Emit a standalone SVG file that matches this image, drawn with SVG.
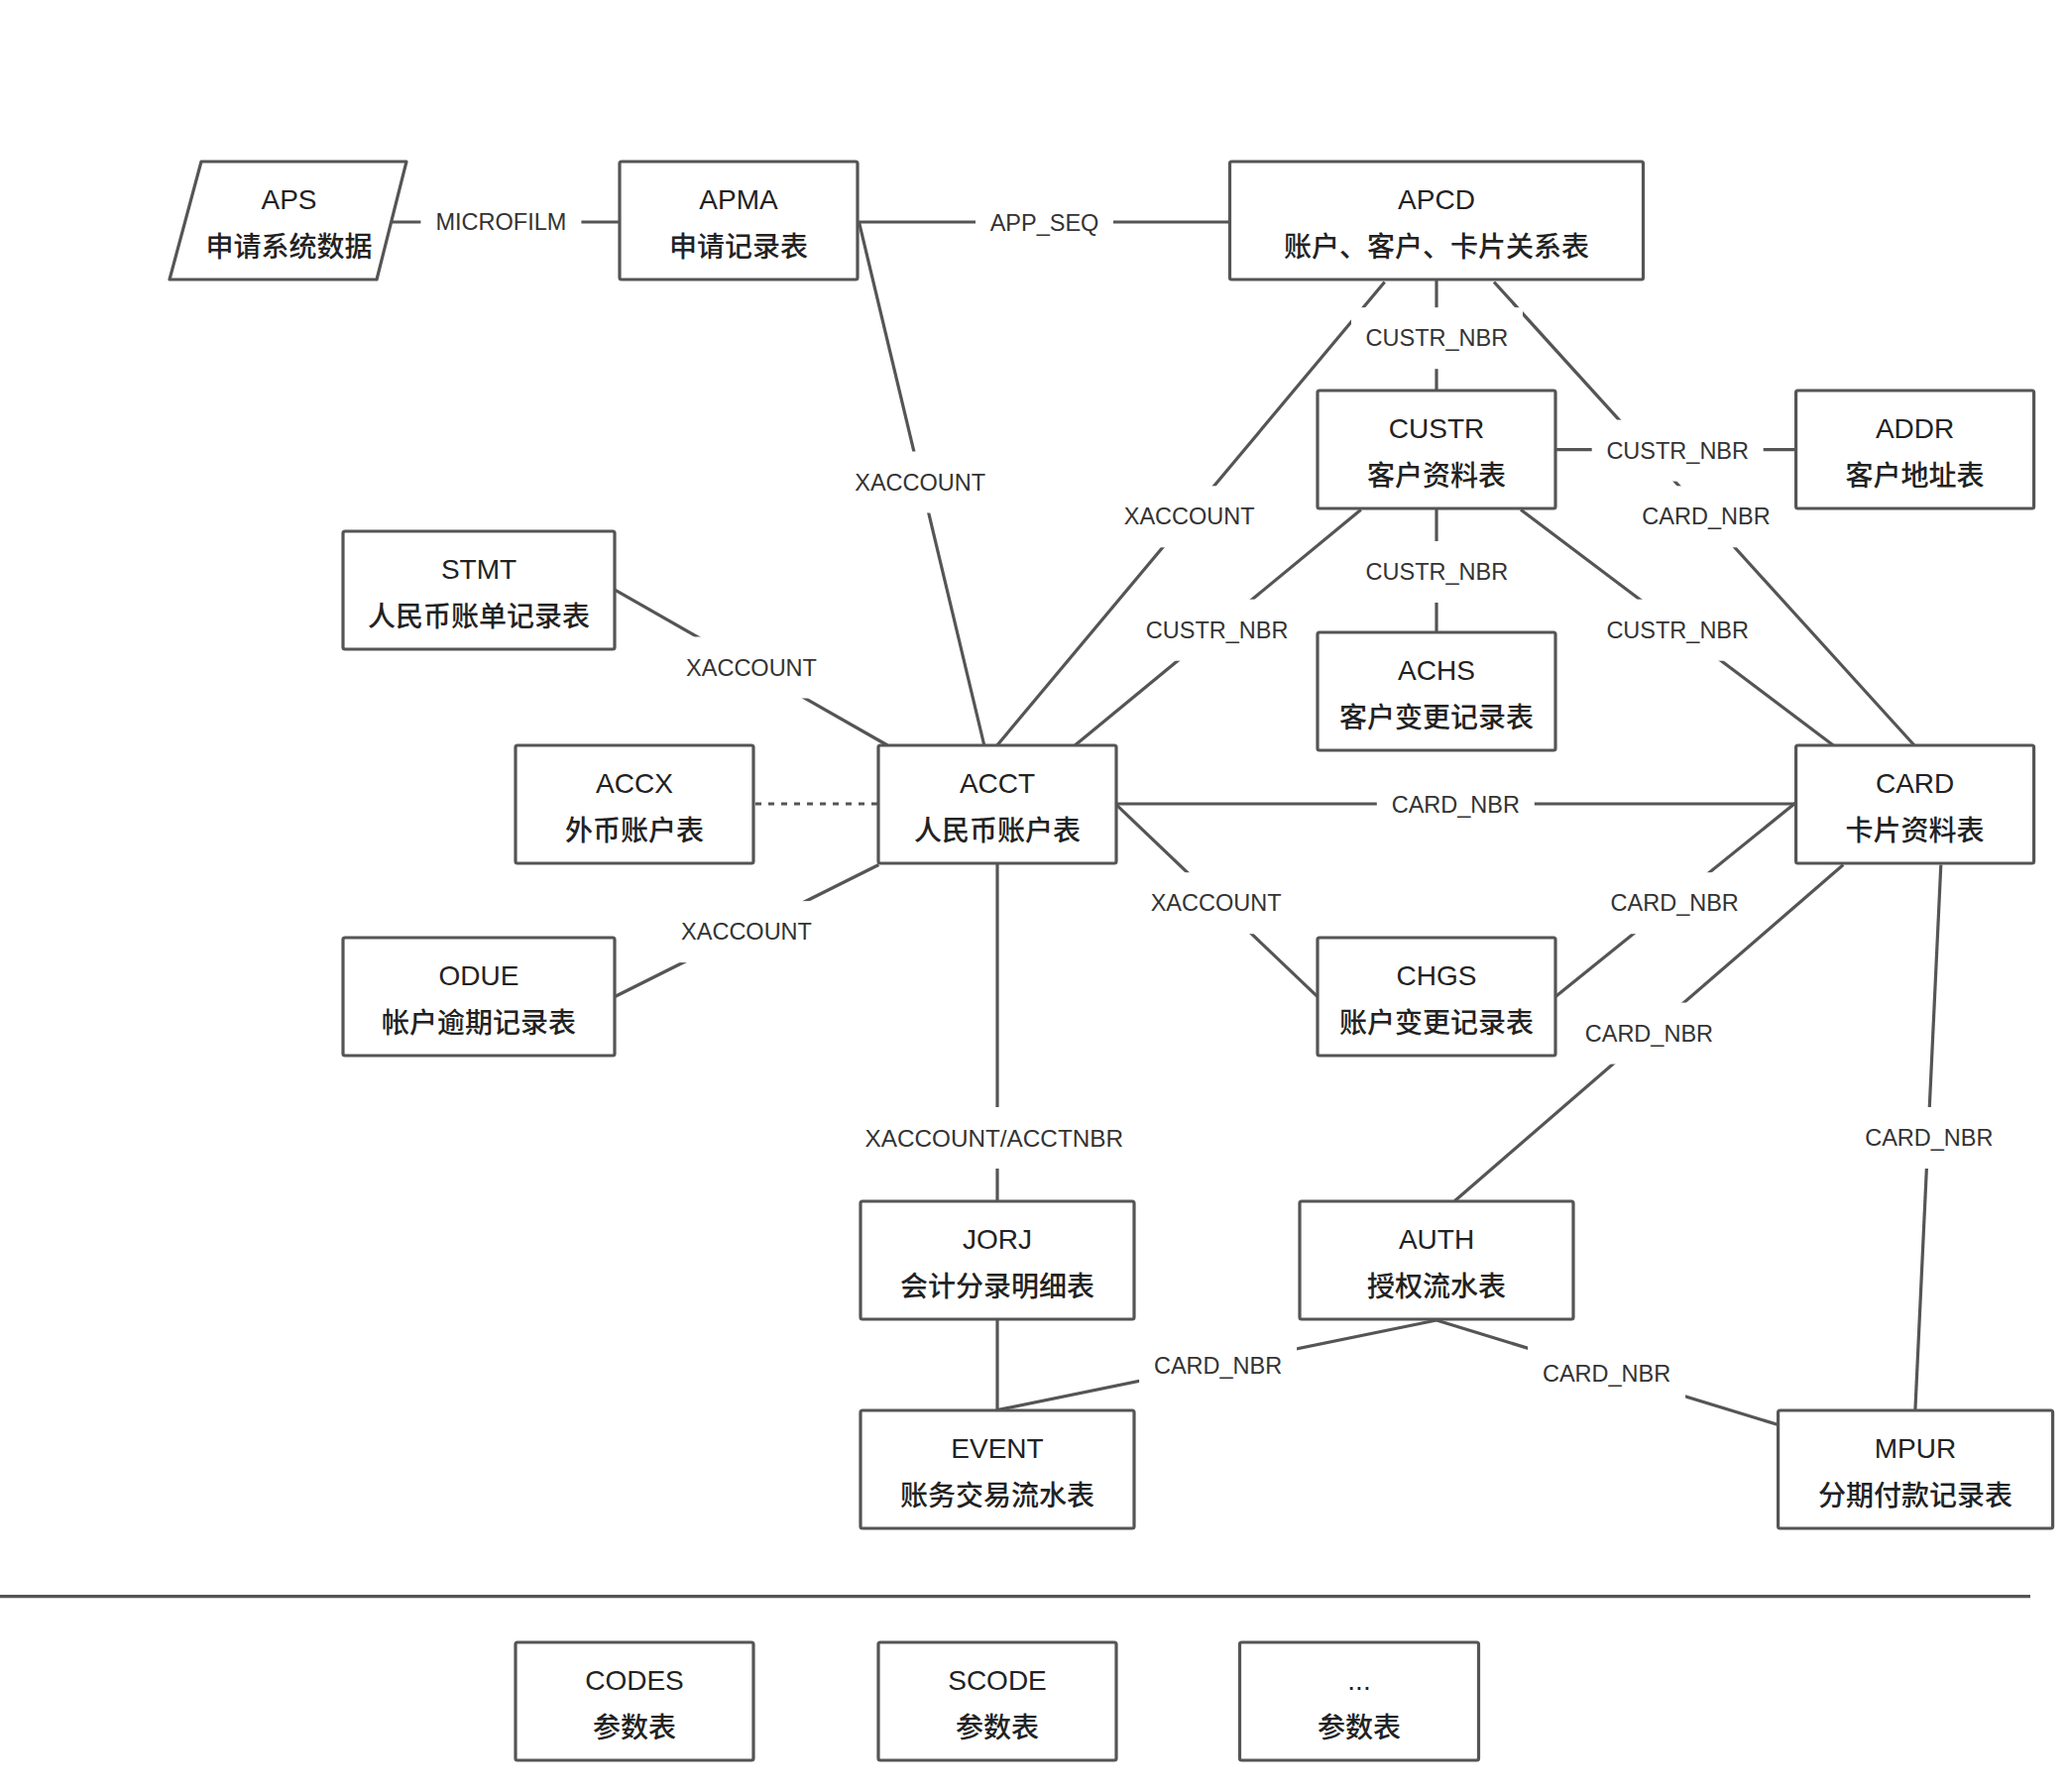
<svg xmlns="http://www.w3.org/2000/svg" width="2086" height="1808" viewBox="0 0 2086 1808">
<style>
.bx{fill:#fff;stroke:#555;stroke-width:3.2}
.ln{stroke:#555;stroke-width:3.2;fill:none}
.dash{stroke-dasharray:6 7}
.lb{fill:#fff;stroke:none}
.lt{font-family:"Liberation Sans","Noto Sans CJK SC",sans-serif;font-size:23.5px;fill:#333;text-anchor:middle;dominant-baseline:central}
.t1{font-family:"Liberation Sans","Noto Sans CJK SC",sans-serif;font-size:28px;fill:#222;text-anchor:middle}
.t2{font-family:"Noto Sans CJK SC","Liberation Sans",sans-serif;font-size:28px;font-weight:500;fill:#222;text-anchor:middle}
</style>
<rect width="2086" height="1808" fill="#fff"/>
<g id="connectors">
<line class="ln" x1="389" y1="224" x2="625" y2="224"/>
<line class="ln" x1="864.5" y1="224" x2="1240.5" y2="224"/>
<line class="ln" x1="866.5" y1="224" x2="992.8" y2="752"/>
<line class="ln" x1="1396.7" y1="284.5" x2="1005.8" y2="752"/>
<line class="ln" x1="1449" y1="282" x2="1449" y2="394"/>
<line class="ln" x1="1507" y1="284.5" x2="1931" y2="752"/>
<line class="ln" x1="1569" y1="453.6" x2="1811.6" y2="453.6"/>
<line class="ln" x1="1372.8" y1="514.3" x2="1084.3" y2="752"/>
<line class="ln" x1="1449" y1="513" x2="1449" y2="638"/>
<line class="ln" x1="1534" y1="514.3" x2="1849.3" y2="752"/>
<line class="ln" x1="619.8" y1="594.9" x2="895.3" y2="752"/>
<line class="ln dash" x1="762" y1="811" x2="886" y2="811"/>
<line class="ln" x1="619.8" y1="1005.7" x2="886.4" y2="872.5"/>
<line class="ln" x1="1126" y1="811" x2="1811.6" y2="811"/>
<line class="ln" x1="1126" y1="811.8" x2="1329" y2="1005.7"/>
<line class="ln" x1="1568.8" y1="1005.7" x2="1811.5" y2="809.8"/>
<line class="ln" x1="1859.3" y1="872.5" x2="1467.3" y2="1211.7"/>
<line class="ln" x1="1957.8" y1="872.5" x2="1931.9" y2="1422.6"/>
<line class="ln" x1="1006" y1="871" x2="1006" y2="1212"/>
<line class="ln" x1="1006" y1="1331" x2="1006" y2="1423"/>
<line class="ln" x1="1449" y1="1332" x2="1006" y2="1422.6"/>
<line class="ln" x1="1449" y1="1332" x2="1793.6" y2="1437.5"/>
<line class="ln" x1="0" y1="1610.6" x2="2048" y2="1610.6"/>
<rect class="lb" x="424.4" y="193" width="162" height="62"/><text class="lt" x="505.4" y="224">MICROFILM</text>
<rect class="lb" x="984" y="194" width="139" height="62"/><text class="lt" x="1053.5" y="225">APP_SEQ</text>
<rect class="lb" x="848" y="455.5" width="161" height="62"/><text class="lt" x="928.2" y="486.5">XACCOUNT</text>
<rect class="lb" x="1119.5" y="490.3" width="161" height="62"/><text class="lt" x="1199.7" y="521.3">XACCOUNT</text>
<rect class="lb" x="1363" y="310.2" width="173" height="62"/><text class="lt" x="1449.4" y="341.2">CUSTR_NBR</text>
<rect class="lb" x="1605.7" y="423.6" width="173" height="62"/><text class="lt" x="1692.2" y="454.6">CUSTR_NBR</text>
<rect class="lb" x="1641.5" y="490.3" width="159" height="62"/><text class="lt" x="1721" y="521.3">CARD_NBR</text>
<rect class="lb" x="1141" y="604.7" width="173" height="62"/><text class="lt" x="1227.6" y="635.7">CUSTR_NBR</text>
<rect class="lb" x="1363" y="546" width="173" height="62"/><text class="lt" x="1449.4" y="577">CUSTR_NBR</text>
<rect class="lb" x="1605.7" y="604.7" width="173" height="62"/><text class="lt" x="1692.2" y="635.7">CUSTR_NBR</text>
<rect class="lb" x="677.5" y="642.5" width="161" height="62"/><text class="lt" x="758" y="673.5">XACCOUNT</text>
<rect class="lb" x="672.5" y="909.1" width="161" height="62"/><text class="lt" x="753" y="940.1">XACCOUNT</text>
<rect class="lb" x="1388.8" y="780.8" width="159" height="62"/><text class="lt" x="1468.3" y="811.8">CARD_NBR</text>
<rect class="lb" x="1146" y="880.2" width="161" height="62"/><text class="lt" x="1226.6" y="911.2">XACCOUNT</text>
<rect class="lb" x="1609.7" y="880.2" width="159" height="62"/><text class="lt" x="1689.2" y="911.2">CARD_NBR</text>
<rect class="lb" x="1583.9" y="1011.6" width="159" height="62"/><text class="lt" x="1663.4" y="1042.6">CARD_NBR</text>
<rect class="lb" x="1866.3" y="1117" width="159" height="62"/><text class="lt" x="1945.8" y="1148">CARD_NBR</text>
<rect class="lb" x="858" y="1117" width="290" height="62"/><text class="lt" x="1002.8" y="1148" style="font-size:24.3px">XACCOUNT/ACCTNBR</text>
<rect class="lb" x="1149.1" y="1346.8" width="159" height="62"/><text class="lt" x="1228.6" y="1377.8">CARD_NBR</text>
<rect class="lb" x="1541.1" y="1354.8" width="159" height="62"/><text class="lt" x="1620.6" y="1385.8">CARD_NBR</text>
</g>
<g id="APS"><polygon class="bx" points="203,163 410,163 380,282 171,282" stroke-linejoin="round"/><text class="t1" x="291.5" y="210.5">APS</text><text class="t2" x="291.5" y="258.5">申请系统数据</text></g>
<g id="APMA"><rect class="bx" x="625" y="163" width="240" height="119" rx="2"/><text class="t1" x="745" y="210.5">APMA</text><text class="t2" x="745" y="258.5">申请记录表</text></g>
<g id="APCD"><rect class="bx" x="1240.5" y="163" width="417" height="119" rx="2"/><text class="t1" x="1449" y="210.5">APCD</text><text class="t2" x="1449" y="258.5">账户、客户、卡片关系表</text></g>
<g id="CUSTR"><rect class="bx" x="1329" y="394" width="240" height="119" rx="2"/><text class="t1" x="1449" y="441.5">CUSTR</text><text class="t2" x="1449" y="489.5">客户资料表</text></g>
<g id="ADDR"><rect class="bx" x="1811.6" y="394" width="240" height="119" rx="2"/><text class="t1" x="1931.6" y="441.5">ADDR</text><text class="t2" x="1931.6" y="489.5">客户地址表</text></g>
<g id="STMT"><rect class="bx" x="346" y="536" width="274" height="119" rx="2"/><text class="t1" x="483" y="583.5">STMT</text><text class="t2" x="483" y="631.5">人民币账单记录表</text></g>
<g id="ACHS"><rect class="bx" x="1329" y="638" width="240" height="119" rx="2"/><text class="t1" x="1449" y="685.5">ACHS</text><text class="t2" x="1449" y="733.5">客户变更记录表</text></g>
<g id="ACCX"><rect class="bx" x="520" y="752" width="240" height="119" rx="2"/><text class="t1" x="640" y="799.5">ACCX</text><text class="t2" x="640" y="847.5">外币账户表</text></g>
<g id="ACCT"><rect class="bx" x="886" y="752" width="240" height="119" rx="2"/><text class="t1" x="1006" y="799.5">ACCT</text><text class="t2" x="1006" y="847.5">人民币账户表</text></g>
<g id="CARD"><rect class="bx" x="1811.6" y="752" width="240" height="119" rx="2"/><text class="t1" x="1931.6" y="799.5">CARD</text><text class="t2" x="1931.6" y="847.5">卡片资料表</text></g>
<g id="ODUE"><rect class="bx" x="346" y="946" width="274" height="119" rx="2"/><text class="t1" x="483" y="993.5">ODUE</text><text class="t2" x="483" y="1041.5">帐户逾期记录表</text></g>
<g id="CHGS"><rect class="bx" x="1329" y="946" width="240" height="119" rx="2"/><text class="t1" x="1449" y="993.5">CHGS</text><text class="t2" x="1449" y="1041.5">账户变更记录表</text></g>
<g id="JORJ"><rect class="bx" x="868" y="1212" width="276" height="119" rx="2"/><text class="t1" x="1006" y="1259.5">JORJ</text><text class="t2" x="1006" y="1307.5">会计分录明细表</text></g>
<g id="AUTH"><rect class="bx" x="1311" y="1212" width="276" height="119" rx="2"/><text class="t1" x="1449" y="1259.5">AUTH</text><text class="t2" x="1449" y="1307.5">授权流水表</text></g>
<g id="EVENT"><rect class="bx" x="868" y="1423" width="276" height="119" rx="2"/><text class="t1" x="1006" y="1470.5">EVENT</text><text class="t2" x="1006" y="1518.5">账务交易流水表</text></g>
<g id="MPUR"><rect class="bx" x="1793.6" y="1423" width="277" height="119" rx="2"/><text class="t1" x="1932" y="1470.5">MPUR</text><text class="t2" x="1932" y="1518.5">分期付款记录表</text></g>
<g id="CODES"><rect class="bx" x="520" y="1657" width="240" height="119" rx="2"/><text class="t1" x="640" y="1704.5">CODES</text><text class="t2" x="640" y="1752.5">参数表</text></g>
<g id="SCODE"><rect class="bx" x="886" y="1657" width="240" height="119" rx="2"/><text class="t1" x="1006" y="1704.5">SCODE</text><text class="t2" x="1006" y="1752.5">参数表</text></g>
<g id="OTHER"><rect class="bx" x="1250.5" y="1657" width="241" height="119" rx="2"/><text class="t1" x="1371" y="1704.5">...</text><text class="t2" x="1371" y="1752.5">参数表</text></g>
</svg>
